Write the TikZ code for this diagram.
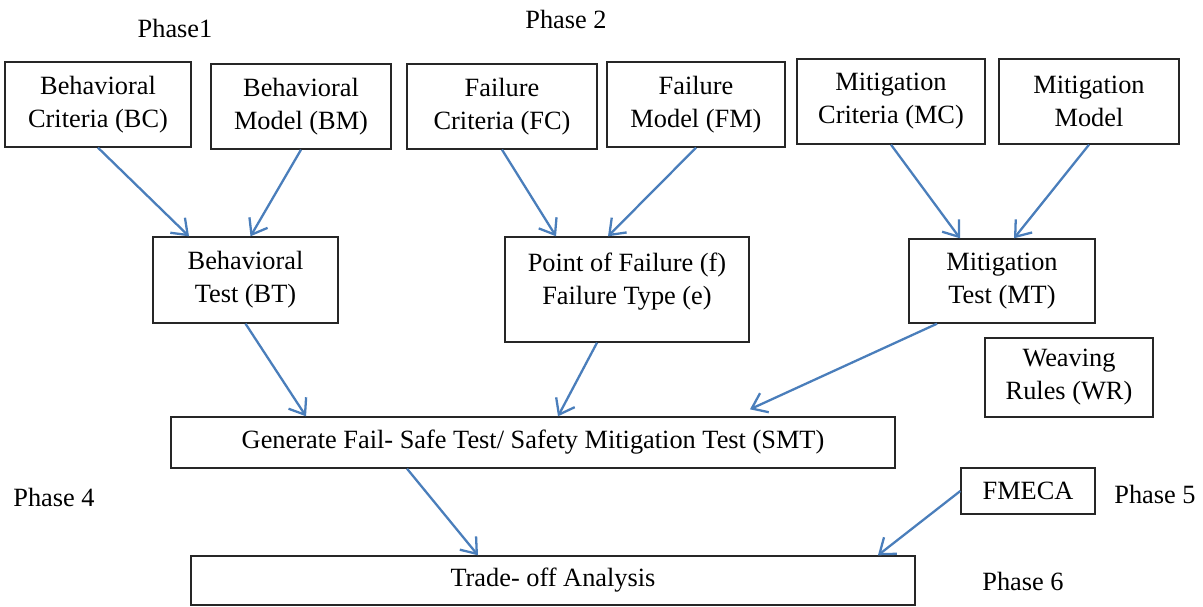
\documentclass[tikz,border=0pt]{standalone}
\usepackage{fontspec}
\setmainfont{Liberation Serif}
\usetikzlibrary{arrows.meta}
\definecolor{flowblue}{RGB}{74,126,187}
\begin{document}
\begin{tikzpicture}[x=0.02cm, y=-0.02cm, every node/.style={font={\fontsize{15}{18.8}\selectfont}},
  box/.style={draw=black!85, line width=0.8pt, align=center, inner sep=2pt},
  flow/.style={-{Straight Barb[length=0.28cm,width=0.42cm]}, line width=1.3pt, flowblue}]
\useasboundingbox (0,0) rectangle (1203,606);
\node (ph1) at (175,28) {Phase1};
\node (ph2) at (566,19) {Phase 2};
\node (ph4) at (54,497) {Phase 4};
\node (ph5) at (1155,494) {Phase 5};
\node (ph6) at (1023,581) {Phase 6};
\node[box,minimum width=3.72cm,minimum height=1.7cm] (bc) at (98,104.5) {Behavioral\\Criteria (BC)};
\node[box,minimum width=3.6cm,minimum height=1.7cm] (bm) at (301,106.5) {Behavioral\\Model (BM)};
\node[box,minimum width=3.8cm,minimum height=1.7cm] (fc) at (502,106.5) {Failure\\Criteria (FC)};
\node[box,minimum width=3.56cm,minimum height=1.7cm] (fm) at (696,104.5) {Failure\\Model (FM)};
\node[box,minimum width=3.76cm,minimum height=1.7cm] (mc) at (891,101.5) {Mitigation\\Criteria (MC)};
\node[box,minimum width=3.6cm,minimum height=1.7cm] (mm) at (1089,101.5) {Mitigation\\Model};
\node[box,minimum width=3.7cm,minimum height=1.72cm] (bt) at (245.5,280) {Behavioral\\Test (BT)};
\node[box,minimum width=4.88cm,minimum height=2.1cm,text depth=0.45cm] (pf) at (627,289.5) {Point of Failure (f)\\Failure Type (e)};
\node[box,minimum width=3.72cm,minimum height=1.68cm] (mt) at (1002,281) {Mitigation\\Test (MT)};
\node[box,minimum width=3.36cm,minimum height=1.58cm] (wr) at (1069,377.5) {Weaving\\Rules (WR)};
\node[box,minimum width=14.48cm,minimum height=1.02cm] (smt) at (533,442.5) {Generate Fail- Safe Test/ Safety Mitigation Test (SMT)};
\node[box,minimum width=2.68cm,minimum height=0.92cm] (fmeca) at (1028,491) {FMECA};
\node[box,minimum width=14.48cm,minimum height=0.98cm] (ta) at (553,580.5) {Trade- off Analysis};
\draw[flow] (bc.south) -- ([xshift=-1.13cm]bt.north); \draw[flow] (bm.south) -- ([xshift=0.1cm]bt.north);
\draw[flow] (fc.south) -- ([xshift=-1.42cm]pf.north); \draw[flow] (fm.south) -- ([xshift=-0.38cm]pf.north);
\draw[flow] (mc.south) -- ([xshift=-0.84cm]mt.north); \draw[flow] (mm.south) -- ([xshift=0.24cm]mt.north);
\draw[flow] (bt.south) -- ([xshift=-4.54cm]smt.north); \draw[flow] ([xshift=-0.6cm]pf.south) -- ([xshift=0.5cm]smt.north);
\draw[flow] ([xshift=-1.3cm]mt.south) -- ([xshift=4.34cm,yshift=0.14cm]smt.north);
\draw[flow] ([xshift=-2.52cm]smt.south) -- ([xshift=-1.5cm]ta.north); \draw[flow] (fmeca.west) -- ([xshift=6.5cm]ta.north);
\end{tikzpicture}
\end{document}
